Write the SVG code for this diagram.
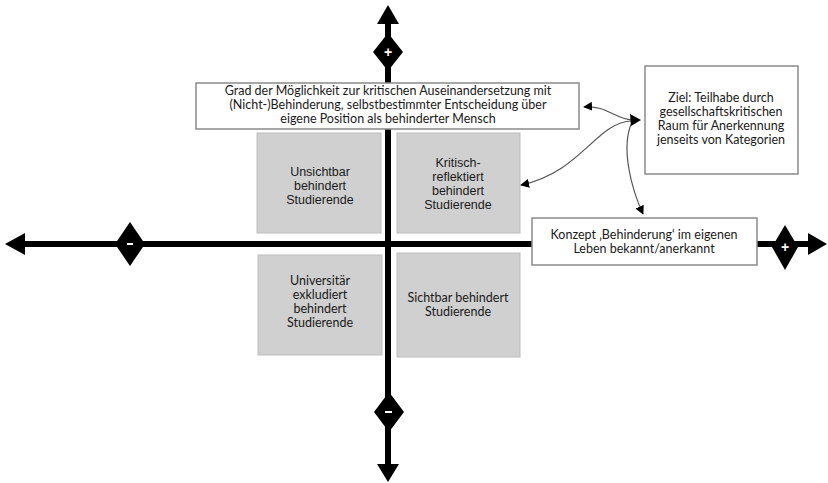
<svg xmlns="http://www.w3.org/2000/svg" width="828" height="483" viewBox="0 0 828 483">
  <defs>
    <style>
      .axis { stroke: #000; stroke-width: 6; fill: none; }
      .head { fill: #000; }
      .dia { fill: #000; }
      .sign { fill: #fff; font-family: "Liberation Sans", Arial, sans-serif; font-size: 14px; font-weight: bold; text-anchor: middle; }
      .box { fill: #fff; stroke: #8a8a8a; stroke-width: 1.5; }
      .quad { fill: #d0d0d0; stroke: #bdbdbd; stroke-width: 1; }
      .lato { font-family: Lato, "Open Sans", sans-serif; font-size: 12.5px; fill: #1a1a1a; text-anchor: middle; }
      .arial { font-family: "Liberation Sans", Arial, sans-serif; font-size: 12.5px; fill: #1a1a1a; text-anchor: middle; }
      .link { stroke: #555; stroke-width: 1.2; fill: none; }
    </style>
    <marker id="tip" viewBox="0 0 10 10" refX="9" refY="5" markerWidth="9" markerHeight="9" markerUnits="userSpaceOnUse" orient="auto">
      <path d="M0,0 L10,5 L0,10 Z" fill="#000"/>
    </marker>
  </defs>

  <!-- axes -->
  <g id="axes">
    <line class="axis" x1="388" y1="20" x2="388" y2="468"/>
    <line class="axis" x1="22" y1="244" x2="812" y2="244"/>
    <polygon class="head" points="388,5 377,24 399,24"/>
    <polygon class="head" points="388,482 377,464 399,464"/>
    <polygon class="head" points="5,244 25,233 25,255"/>
    <polygon class="head" points="827,244 808,233 808,255"/>
  </g>

  <!-- axis end markers -->
  <g id="plus-top">
    <polygon class="dia" points="388,33 403,52 388,71 373,52"/>
    <text class="sign" x="388" y="57">+</text>
  </g>
  <g id="minus-bottom">
    <polygon class="dia" points="389,392 404,412 389,432 374,412"/>
    <rect x="385" y="411" width="7" height="2" fill="#fff"/>
  </g>
  <g id="minus-left">
    <polygon class="dia" points="130,222 145,244 130,266 115,244"/>
    <rect x="127" y="243" width="6" height="2" fill="#fff"/>
  </g>
  <g id="plus-right">
    <polygon class="dia" points="785,225 798,247 785,270 772,247"/>
    <text class="sign" x="785" y="252">+</text>
  </g>

  <!-- quadrants -->
  <g id="q-unsichtbar">
    <rect class="quad" x="257" y="133" width="124" height="100"/>
    <text class="arial" x="320" y="176">Unsichtbar</text>
    <text class="arial" x="320" y="190">behindert</text>
    <text class="arial" x="320" y="204">Studierende</text>
  </g>
  <g id="q-kritisch">
    <rect class="quad" x="397" y="133" width="123" height="100"/>
    <text class="arial" x="458" y="167">Kritisch-</text>
    <text class="arial" x="458" y="181">reflektiert</text>
    <text class="arial" x="458" y="195">behindert</text>
    <text class="arial" x="458" y="209">Studierende</text>
  </g>
  <g id="q-universitaer">
    <rect class="quad" x="258" y="255" width="124" height="100"/>
    <text class="lato" x="320" y="285">Universitär</text>
    <text class="lato" x="320" y="299">exkludiert</text>
    <text class="lato" x="320" y="313">behindert</text>
    <text class="lato" x="320" y="327">Studierende</text>
  </g>
  <g id="q-sichtbar">
    <rect class="quad" x="397" y="253" width="123" height="104"/>
    <text class="lato" x="458" y="302">Sichtbar behindert</text>
    <text class="lato" x="458" y="316">Studierende</text>
  </g>

  <!-- labelled boxes -->
  <g id="box-grad">
    <rect class="box" x="196" y="83" width="383" height="46"/>
    <text class="lato" x="388" y="95" font-size="13">Grad der Möglichkeit zur kritischen Auseinandersetzung mit</text>
    <text class="lato" x="388" y="109" font-size="13">(Nicht-)Behinderung, selbstbestimmter Entscheidung über</text>
    <text class="lato" x="388" y="123" font-size="13">eigene Position als behinderter Mensch</text>
  </g>
  <g id="box-ziel">
    <rect class="box" x="645" y="66" width="153" height="108"/>
    <text class="lato" x="721" y="102" font-size="13.5">Ziel: Teilhabe durch</text>
    <text class="lato" x="721" y="116" font-size="13.5">gesellschaftskritischen</text>
    <text class="lato" x="721" y="130" font-size="13.5">Raum für Anerkennung</text>
    <text class="lato" x="721" y="144" font-size="13.5">jenseits von Kategorien</text>
  </g>
  <g id="box-konzept">
    <rect class="box" x="532" y="218" width="225" height="47"/>
    <text class="lato" x="644" y="239" font-size="13">Konzept ‚Behinderung‘ im eigenen</text>
    <text class="lato" x="644" y="253" font-size="13">Leben bekannt/anerkannt</text>
  </g>

  <!-- connectors -->
  <g id="connectors">
    <path class="link" d="M632,120 C615,119 606,105 584,107" marker-end="url(#tip)"/>
    <path class="link" d="M632,121 C596,122 582,172 521,185" marker-end="url(#tip)"/>
    <path class="link" d="M632,122 C620,148 632,190 643,214" marker-end="url(#tip)"/>
    <polygon class="head" points="641,120 630,114 631,126"/>
  </g>
</svg>
